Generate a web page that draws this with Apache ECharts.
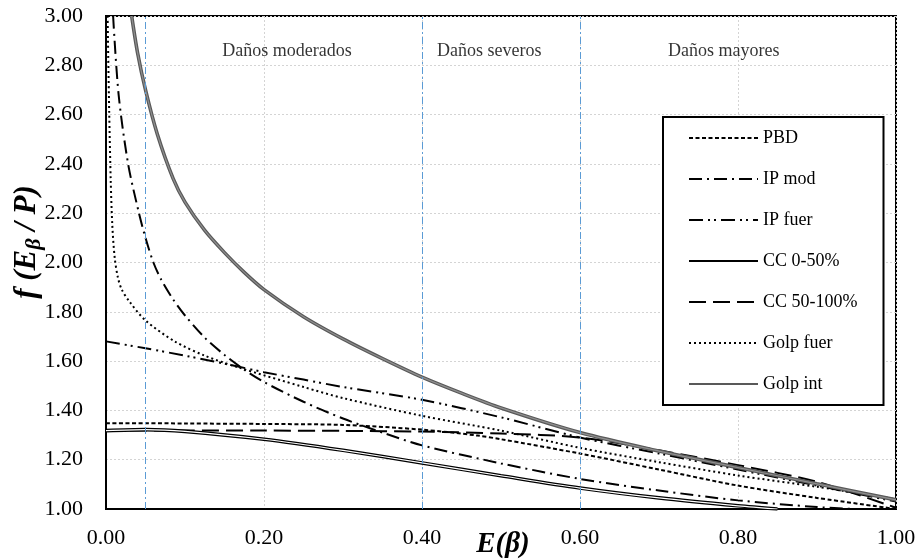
<!DOCTYPE html>
<html><head><meta charset="utf-8">
<script src="https://cdn.jsdelivr.net/npm/echarts@6/dist/echarts.min.js"></script>
<style>html,body{margin:0;padding:0;background:#fff}#c{width:921px;height:560px}</style>
</head><body><div id="c"></div>
<script>
// ---------- data ----------
const xTickLabels = ['0.00','0.20','0.40','0.60','0.80','1.00'];
const yTickLabels = ['1.00','1.20','1.40','1.60','1.80','2.00','2.20','2.40','2.60','2.80','3.00'];
const seriesNames = ['PBD','IP mod','IP fuer','CC 0-50%','CC 50-100%','Golp fuer','Golp int'];

const pbdE = [0, 0.05, 0.1, 0.2, 0.3, 0.4, 0.47, 0.5, 0.6, 0.7, 0.8, 0.9, 1.0];
const pbdF = [1.348, 1.348, 1.347, 1.345, 1.341, 1.322, 1.298, 1.283, 1.225, 1.16, 1.095, 1.045, 1.0];

const ipModE = [0.009, 0.016, 0.028, 0.041, 0.05, 0.06, 0.07, 0.085, 0.1, 0.125, 0.15, 0.175, 0.2, 0.25, 0.3, 0.35, 0.4, 0.5, 0.6, 0.7, 0.8, 0.9, 0.95];
const ipModF = [3.0, 2.68, 2.40, 2.21, 2.10, 2.00, 1.93, 1.85, 1.785, 1.695, 1.625, 1.565, 1.515, 1.435, 1.367, 1.31, 1.258, 1.185, 1.122, 1.075, 1.035, 1.008, 1.0];

const ipFuerE = [0, 0.05, 0.1, 0.167, 0.2, 0.25, 0.3, 0.4, 0.5, 0.6, 0.7, 0.8, 0.9, 1.0];
const ipFuerF = [1.68, 1.652, 1.622, 1.578, 1.555, 1.525, 1.495, 1.443, 1.372, 1.29, 1.225, 1.16, 1.095, 1.03];

const cc050E = [0, 0.05, 0.1, 0.2, 0.3, 0.4, 0.5, 0.6, 0.7, 0.8, 0.85];
const cc050F = [1.318, 1.322, 1.315, 1.283, 1.238, 1.187, 1.135, 1.085, 1.045, 1.013, 1.0];

const cc50100E = [0, 0.1, 0.2, 0.3, 0.4, 0.5, 0.6, 0.7, 0.8, 0.9, 1.0];
const cc50100F = [1.318, 1.318, 1.318, 1.317, 1.314, 1.306, 1.29, 1.238, 1.178, 1.11, 1.005];

const golpFuerE = [0.002, 0.004, 0.006, 0.008, 0.011, 0.015, 0.02, 0.03, 0.05, 0.087, 0.125, 0.167, 0.25, 0.3, 0.4, 0.5, 0.6, 0.7, 0.8, 0.9, 1.0];
const golpFuerF = [3.0, 2.62, 2.33, 2.15, 2.02, 1.94, 1.89, 1.84, 1.765, 1.68, 1.622, 1.575, 1.495, 1.45, 1.378, 1.318, 1.248, 1.19, 1.136, 1.09, 1.04];

const golpIntE = [0.0325, 0.04, 0.05, 0.065, 0.085, 0.1, 0.125, 0.15, 0.175, 0.2, 0.25, 0.3, 0.35, 0.4, 0.45, 0.5, 0.6, 0.7, 0.8, 0.9, 1.0];
const golpIntF = [3.0, 2.85, 2.70, 2.52, 2.34, 2.245, 2.13, 2.04, 1.96, 1.89, 1.78, 1.69, 1.61, 1.535, 1.47, 1.41, 1.31, 1.235, 1.168, 1.102, 1.037];

const zoneBounds = [0.05, 0.4, 0.6];
const zoneLabels = ['Daños moderados', 'Daños severos', 'Daños mayores'];
const zoneLabelX = [0.229, 0.485, 0.782];
const zoneLabelY = [2.855, 2.855, 2.855];

// ---------- chart ----------
const FONT = "'Liberation Serif', 'Times New Roman', serif";
const pairs = (xs, ys) => xs.map((x, i) => [x, ys[i]]);
const chart = echarts.init(document.getElementById('c'), null, {renderer: 'canvas'});

function lineSeries(name, xs, ys, color, width, type, z) {
  return {
    name, type: 'line', data: pairs(xs, ys), showSymbol: false, symbol: 'none',
    smooth: 0.3, clip: true, z: z || 2,
    lineStyle: {color, width, type, cap: 'butt'}, itemStyle: {color},
    emphasis: {disabled: true}, silent: true
  };
}

const option = {
  animation: false,
  backgroundColor: '#fff',
  textStyle: {fontFamily: FONT, color: '#000'},
  grid: {left: 106, right: 25, top: 16, bottom: 51, show: true, borderColor: '#000', borderWidth: 2, backgroundColor: 'transparent'},
  xAxis: {
    type: 'value', min: 0, max: 1, interval: 0.2,
    axisLine: {show: true, onZero: false, lineStyle: {color: '#000', width: 2}},
    axisTick: {show: false},
    axisLabel: {margin: 18, fontSize: 22, color: '#000', fontFamily: FONT,
      formatter: v => xTickLabels[Math.round(v / 0.2)]},
    splitLine: {show: true, lineStyle: {color: '#d4d4d4', type: [2, 2], width: 1}}
  },
  yAxis: {
    type: 'value', min: 1, max: 3, interval: 0.2,
    axisLine: {show: true, onZero: false, lineStyle: {color: '#000', width: 2}},
    axisTick: {show: false},
    axisLabel: {margin: 23, fontSize: 22, color: '#000', fontFamily: FONT,
      formatter: v => yTickLabels[Math.round((v - 1) / 0.2)]},
    splitLine: {show: true, lineStyle: {color: '#d4d4d4', type: [2, 2], width: 1}}
  },
  legend: {
    data: seriesNames, orient: 'vertical', left: 663, top: 117,
    padding: [12, 26, 12, 25], itemGap: 23, itemWidth: 69, itemHeight: 18,
    backgroundColor: '#fff', borderColor: '#000', borderWidth: 2, borderRadius: 0,
    itemStyle: {opacity: 0, borderWidth: 0},
    textStyle: {fontSize: 18, color: '#000', fontFamily: FONT},
    selectedMode: false
  },
  graphic: [
    {type: 'text', x: 503, y: 545, z: 100,
      style: {text: 'E(β)', fontSize: 29, fontWeight: 'bold', fontStyle: 'italic', fontFamily: FONT,
        fill: '#000', align: 'center', verticalAlign: 'middle'}},
    {type: 'text', x: 27, y: 242, rotation: Math.PI / 2, z: 100,
      style: {text: 'f (E{s|β} / P)', fontSize: 31, fontWeight: 'bold', fontStyle: 'italic', fontFamily: FONT,
        fill: '#000', align: 'center', verticalAlign: 'middle',
        rich: {s: {fontSize: 22, fontWeight: 'bold', fontStyle: 'italic', fontFamily: FONT, fill: '#000', padding: [14, 0, 0, 0], verticalAlign: 'bottom'}}}}
  ],
  series: [
    {
      name: 'zones', type: 'scatter', symbolSize: 1, itemStyle: {color: 'rgba(0,0,0,0)'}, silent: true, z: 5,
      data: zoneLabels.map((t, i) => [zoneLabelX[i], zoneLabelY[i], t]),
      label: {show: true, position: 'inside', formatter: p => p.value[2], fontSize: 18, color: '#000', fontFamily: FONT},
      markLine: {
        silent: true, symbol: ['none', 'none'], label: {show: false},
        lineStyle: {color: '#5B9BD5', width: 1, type: [7, 3, 2, 3]},
        data: zoneBounds.map(v => ({xAxis: v}))
      }
    },
    lineSeries('PBD', pbdE, pbdF, '#000', 2, [4, 2.5]),
    lineSeries('IP mod', ipModE, ipModF, '#000', 2, [13, 5, 2, 5]),
    lineSeries('IP fuer', ipFuerE, ipFuerF, '#000', 2, [14, 5, 2, 4, 2, 5]),
    lineSeries('CC 0-50%', cc050E, cc050F, '#000', 3.6, 'solid'),
    lineSeries('cc050inner', cc050E, cc050F, '#fff', 1.2, 'solid', 3),
    lineSeries('CC 50-100%', cc50100E, cc50100F, '#000', 2, [17, 7]),
    lineSeries('Golp fuer', golpFuerE, golpFuerF, '#000', 2, [2, 3]),
    lineSeries('Golp int', golpIntE, golpIntF, '#595959', 3.6, 'solid', 4),
    lineSeries('golpintinner', golpIntE, golpIntF, '#8f8f8f', 1.2, 'solid', 4)
  ]
};
chart.setOption(option);
</script></body></html>
